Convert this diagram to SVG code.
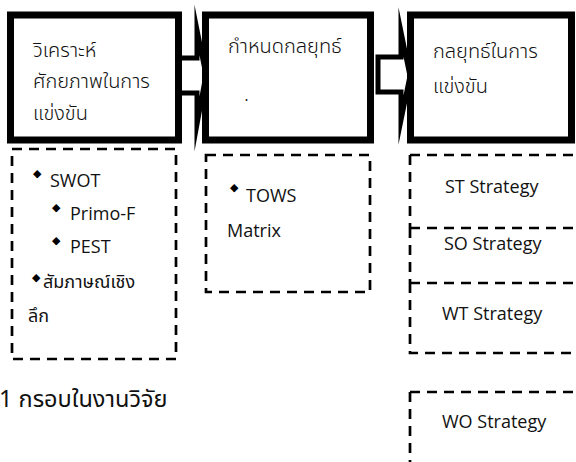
<svg xmlns="http://www.w3.org/2000/svg" width="576" height="462" viewBox="0 0 576 462">
<style>
.box{fill:#fff;stroke:#000;stroke-width:7}
.dash{fill:none;stroke:#000;stroke-width:2.7;stroke-dasharray:10 7}
.arrow{fill:#fff;stroke:#000;stroke-width:5;stroke-linejoin:miter;stroke-miterlimit:20}
.th{font-family:"Noto Sans Thai","Noto Sans","DejaVu Sans",sans-serif;font-size:20px;fill:#111;font-weight:300}
.lt{font-family:"Open Sans","Noto Sans Thai","Noto Sans",sans-serif;font-size:18px;fill:#111}
.bl{font-family:"DejaVu Sans",sans-serif;font-size:11px;fill:#000}
.cap{font-family:"Noto Sans Thai","Open Sans","Noto Sans",sans-serif;font-size:23.5px;fill:#111}
</style>
<rect width="576" height="462" fill="#fff"/>
<g id="connectors">
<polygon class="arrow" points="178,58 197,58 197,30 206,75 197,124 197,93 178,93"/>
<polygon class="arrow" points="378,57 401,57 401,32 410,76 401,120 401,92 378,92"/>
</g>
<g id="node-analyze">
<rect class="box" x="10.5" y="15" width="168" height="125"/>
<text class="th" x="33" y="57">วิเคราะห์</text>
<text class="th" x="33" y="88">ศักยภาพในการ</text>
<text class="th" x="33" y="120">แข่งขัน</text>
</g>
<g id="node-strategy">
<rect class="box" x="205.5" y="15" width="165" height="125"/>
<text class="th" x="228" y="53">กำหนดกลยุทธ์</text>
<text class="th" x="244" y="101">.</text>
</g>
<g id="node-competitive">
<rect class="box" x="410.5" y="15" width="161" height="125"/>
<text class="th" x="433" y="58">กลยุทธ์ในการ</text>
<text class="th" x="433" y="93">แข่งขัน</text>
</g>
<g id="node-tools">
<rect class="dash" x="12" y="149" width="164" height="210"/>
<text class="bl" x="33" y="177">◆</text>
<text class="lt" x="50" y="187">SWOT</text>
<text class="bl" x="52" y="211">◆</text>
<text class="lt" x="70" y="220">Primo-F</text>
<text class="bl" x="52" y="244">◆</text>
<text class="lt" x="70" y="253">PEST</text>
<text class="bl" x="32" y="281">◆</text>
<text class="lt" x="43" y="288">สัมภาษณ์เชิง</text>
<text class="lt" x="28" y="322">ลึก</text>
</g>
<g id="node-tows">
<rect class="dash" x="206" y="155" width="164" height="137"/>
<text class="bl" x="230" y="191">◆</text>
<text class="lt" x="246" y="202">TOWS</text>
<text class="lt" x="227" y="237">Matrix</text>
</g>
<g id="node-st">
<path class="dash" d="M410,155 H590 M410,155 V228"/>
<text class="lt" x="445" y="193">ST Strategy</text>
</g>
<g id="node-so">
<path class="dash" d="M410,228 H590 M410,228 V283"/>
<text class="lt" x="444" y="250">SO Strategy</text>
</g>
<g id="node-wt">
<path class="dash" d="M410,283 H590 M410,283 V353 H590"/>
<text class="lt" x="442" y="320">WT Strategy</text>
</g>
<g id="node-wo">
<path class="dash" d="M410,392 H590 M410,392 V470"/>
<text class="lt" x="442" y="428">WO Strategy</text>
</g>
<text class="cap" x="-1" y="407">1 กรอบในงานวิจัย</text>
</svg>
